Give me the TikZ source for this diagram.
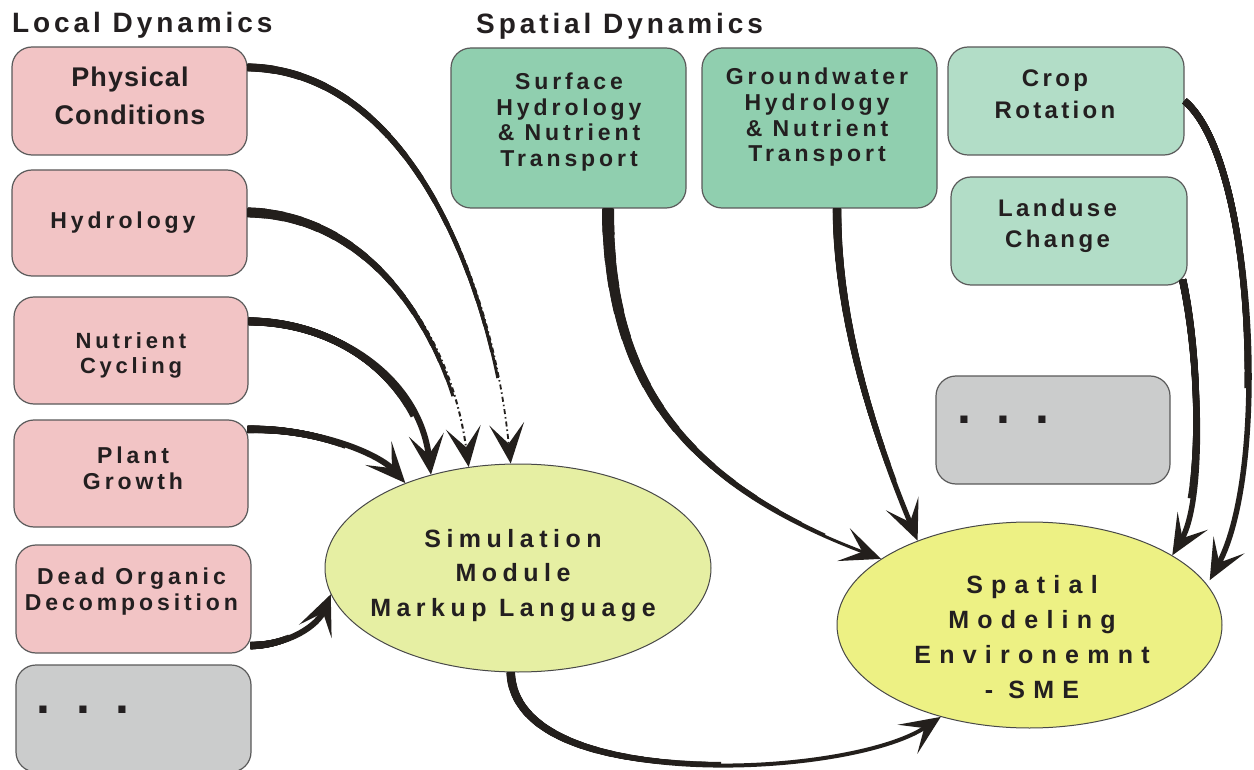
\documentclass[tikz,border=0pt]{standalone}
\usepackage{fontspec}
\setmainfont{Liberation Sans}
\newfontfamily\fsA{Liberation Sans}[LetterSpace=4]
\newfontfamily\fsB{Liberation Sans}[LetterSpace=17]
\newfontfamily\fsC{Liberation Sans}[LetterSpace=14]
\newfontfamily\fsD{Liberation Sans}[LetterSpace=22]
\newfontfamily\fsE{Liberation Sans}[LetterSpace=33]
\usetikzlibrary{arrows.meta,shapes.geometric,calc}

\definecolor{ink}{HTML}{231F20}
\definecolor{arrowink}{HTML}{231F1C}
\definecolor{boxline}{HTML}{5A5A5A}
\definecolor{pinkfill}{HTML}{F2C4C5}
\definecolor{greenfill}{HTML}{90CFAF}
\definecolor{lightgreen}{HTML}{B2DDC7}
\definecolor{grayfill}{HTML}{CBCCCC}
\definecolor{smmlfill}{HTML}{E6EFA3}
\definecolor{smefill}{HTML}{EDF184}

\tikzset{
  boxbase/.style={draw=boxline, line width=1.2pt, rounded corners=20pt, inner sep=0pt},
  pinkbox/.style={boxbase, fill=pinkfill},
  greenbox/.style={boxbase, fill=greenfill},
  lightbox/.style={boxbase, fill=lightgreen},
  graybox/.style={boxbase, fill=grayfill},
  blob/.style={ellipse, draw=boxline!80!black, line width=1pt, inner sep=0pt},
  lbl/.style={text=ink, inner sep=0pt, align=center},
  conn/.style={draw=arrowink, line cap=butt},
  tipped/.style={-{Stealth[length=40pt,width=35pt,inset=20pt]}},
  dotted end/.style={dash pattern=on 5pt off 3pt on 1.5pt off 3pt},
}

% a tapering connector: a thin base stroke carrying the tip, then strokes
% that narrow linearly from #3 to #4 over the first #5 pt of the path
\newcommand\taper[5]{%
  \draw[conn, tipped, #2] #1;
  \foreach \i in {1,...,16}{%
    \pgfmathsetmacro\tw{#4+(#3-#4)*(17-\i)/16}%
    \pgfmathsetmacro\tl{#5*\i/16}%
    \draw[conn, line width=\tw pt, dash pattern=on \tl pt off 3000pt] #1;%
  }%
}

% connector paths
\newcommand\cPhys{($(phys.north east)+(0,21)$) .. controls (400,70) and (490,260) .. (smml.94)}
\newcommand\cHydro{($(hydro.north east)+(0,43)$) .. controls (370,215) and (450,330) .. (smml.116)}
\newcommand\cNutr{($(nutr.north east)+(0,25)$) .. controls (340,322) and (420,380) .. (smml.133)}
\newcommand\cPlant{($(plant.north east)+(-1,10)$) .. controls (320,428) and (380,455) .. (smml.143)}
\newcommand\cDead{($(dead.south east)+(-1,-8)$) .. controls (290,645) and (318,625) .. (smml.188)}
\newcommand\cOut{(smml.266) .. controls (515,795) and (850,778) .. (sme.226)}
\newcommand\cSurf{($(surf.south)+(39.5,0)$) .. controls (608,400) and (700,490) .. (sme.156)}
\newcommand\cGround{($(ground.south)+(17.5,0)$) .. controls (837,330) and (880,450) .. (sme.143)}
\newcommand\cLand{($(land.south east)+(-5,-6)$) .. controls (1200,360) and (1205,500) .. (sme.26)}
\newcommand\cCrop{(crop.east) .. controls (1255,160) and (1270,470) .. ($(sme.16)+(10,4)$)}

\begin{document}
\begin{tikzpicture}[x=1pt, y=-1pt]
\useasboundingbox (0,0) rectangle (1254,770);
\fill[white] (0,0) rectangle (1254,770);

% headings
\node[lbl, anchor=base west, font={\fsC\bfseries\fontsize{28}{30}\selectfont}] (localT) at (12,33) {Local Dynamics};
\node[lbl, anchor=base west, font={\fsC\bfseries\fontsize{28}{30}\selectfont}] (spatialT) at (476,34) {Spatial Dynamics};

% local dynamics column
\node[pinkbox, minimum width=235pt, minimum height=108pt] (phys)  at (129.5,101) {};
\node[pinkbox, minimum width=235pt, minimum height=106pt] (hydro) at (129.5,223) {};
\node[pinkbox, minimum width=234pt, minimum height=107pt] (nutr)  at (131,350.5) {};
\node[pinkbox, minimum width=234pt, minimum height=107pt] (plant) at (131,473.5) {};
\node[pinkbox, minimum width=235pt, minimum height=108pt] (dead)  at (133.5,599) {};
\node[graybox, minimum width=235pt, minimum height=107pt] (moreL) at (133.5,718.5) {};

\node[lbl, font={\fsA\bfseries\fontsize{27}{38}\selectfont}] (physT) at (130,96.3) {Physical\\Conditions};
\node[lbl, font={\fsB\bfseries\fontsize{23}{26}\selectfont}] (hydroT) at (123,222.4) {Hydrology};
\node[lbl, font={\fsB\bfseries\fontsize{22}{25}\selectfont}] (nutrT) at (131,355) {Nutrient\\Cycling};
\node[lbl, font={\fsB\bfseries\fontsize{23}{26}\selectfont}] (plantT) at (133,468) {Plant\\Growth};
\node[lbl, font={\fsB\bfseries\fontsize{23}{26.4}\selectfont}] (deadT) at (131.5,591.5) {Dead Organic\\Decomposition};
\node[lbl, anchor=base west, font={\bfseries\fontsize{50}{50}\selectfont}] (moreLT) at (36.5,713.3) {.\hspace{25.6pt}.\hspace{25.6pt}.};

% spatial dynamics
\node[greenbox, minimum width=235pt, minimum height=160pt] (surf)   at (568.5,128) {};
\node[greenbox, minimum width=235pt, minimum height=160pt] (ground) at (819.5,128) {};
\node[lightbox, minimum width=236pt, minimum height=108pt] (crop)   at (1066,101) {};
\node[lightbox, minimum width=236pt, minimum height=108pt] (land)   at (1069,231) {};
\node[graybox,  minimum width=234pt, minimum height=108pt] (moreR)  at (1053,430) {};

\node[lbl, font={\fsB\bfseries\fontsize{23}{25.8}\selectfont}] (surfT) at (569,122) {Surface\\Hydrology\\\& Nutrient\\Transport};
\node[lbl, font={\fsB\bfseries\fontsize{23}{25.6}\selectfont}] (groundT) at (817,117.4) {Groundwater\\Hydrology\\\& Nutrient\\Transport};
\node[lbl, font={\fsC\bfseries\fontsize{24}{32}\selectfont}] (cropT) at (1055,94.6) {Crop\\Rotation};
\node[lbl, font={\fsC\bfseries\fontsize{24}{30.6}\selectfont}] (landT) at (1057.5,226) {Landuse\\Change};
\node[lbl, anchor=base west, font={\bfseries\fontsize{50}{50}\selectfont}] (moreRT) at (957.5,423.5) {.\hspace{25pt}.\hspace{25pt}.};

% modules
\node[blob, fill=smmlfill, minimum width=386pt, minimum height=208pt] (smml) at (518,568) {};
\node[blob, fill=smefill,  minimum width=385pt, minimum height=206pt] (sme)  at (1029.5,625) {};
\node[lbl, font={\fsD\bfseries\fontsize{25}{34.7}\selectfont}] (smmlT) at (513,575.5) {Simulation\\Module\\Markup Language};
\node[lbl, font={\fsE\bfseries\fontsize{25}{35}\selectfont}] (smeT) at (1032,636.7) {Spatial\\Modeling\\Environemnt\\- SME};

% connectors into the simulation module
\taper{\cPhys}{line width=1.8pt, dotted end}{8}{2.4}{430}
\taper{\cHydro}{line width=2pt, dotted end}{10}{2.6}{295}
\taper{\cNutr}{line width=6pt}{8}{6}{200}
\taper{\cPlant}{line width=6pt}{7.5}{6}{100}
\taper{\cDead}{line width=6pt}{7.5}{6}{40}

% module output and spatial inputs
\taper{\cOut}{line width=4pt}{8.5}{4}{250}
\taper{\cSurf}{line width=3pt}{12}{3}{420}
\taper{\cGround}{line width=5pt}{8.5}{5}{280}
\taper{\cLand}{line width=5.5pt}{7.5}{5.5}{220}
\taper{\cCrop}{line width=5.5pt}{7}{5.5}{300}
\end{tikzpicture}
\end{document}
